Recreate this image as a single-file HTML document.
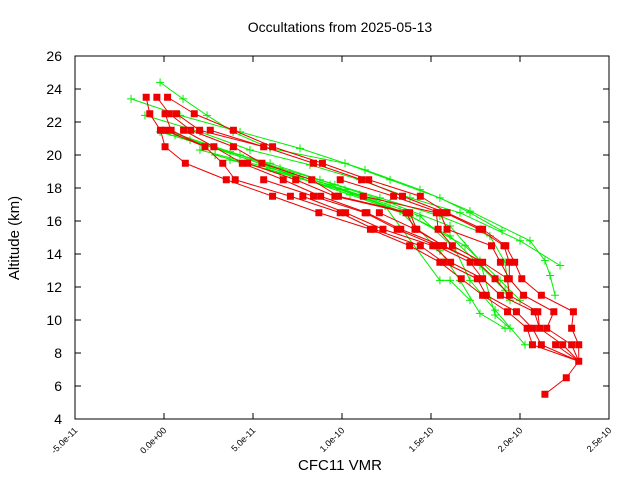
<!DOCTYPE html>
<html><head><meta charset="utf-8"><style>
html,body{margin:0;padding:0;background:#fff;}
svg{display:block;font-family:"Liberation Sans",sans-serif;}
</style></head><body>
<svg id="chart" width="640" height="480" viewBox="0 0 640 480" xmlns="http://www.w3.org/2000/svg">
<rect width="640" height="480" fill="#fff"/>
<text x="340" y="32" font-size="14" text-anchor="middle">Occultations from 2025-05-13</text>
<text x="0" y="0" font-size="15" text-anchor="middle" transform="translate(19,238) rotate(-90)">Altitude (km)</text>
<text x="340" y="470" font-size="15" text-anchor="middle">CFC11 VMR</text>
<g id="green"></g>
<g id="red"></g>
<g id="axes"></g>
</svg>
<script>
// values in units of 1e-12 VMR
const xTicks = [-50, 0, 50, 100, 150, 200, 250];
const xTickLabels = ["-5.0e-11","0.0e+00","5.0e-11","1.0e-10","1.5e-10","2.0e-10","2.5e-10"];
const yTicks = [4,6,8,10,12,14,16,18,20,22,24,26];
const redAltitudes = [23.5,22.5,21.5,20.5,19.5,18.5,17.5,16.5,15.5,14.5,13.5,12.5,11.5,10.5,9.5,8.5,7.5,6.5,5.5];
const redValues = [
 [-10,-4,2],
 [-8,0.6,3,7,17],
 [-2,0.6,4,11,15,20,26,39],
 [0.6,23,28,39,56,61],
 [12,33,44,47,55,84,89],
 [35,40,56,67,74,83,99,111,115],
 [61,71,78,84,88,96,98,112,129,134,144],
 [87,99,102,113,114,121,136,138,153,155,158,159],
 [116,118,123,131,133,141,142,154,159,177,179],
 [138,144,151,153,156,157,162,184,191,192],
 [155,157,161,172,176,179,189,194,197],
 [167,176,179,186,193,194,201],
 [179,181,189,194,202,212],
 [193,198,208,210,219,230],
 [204,207,211,215,229],
 [207,212,220,224,229,233],
 [233],[226],[214]
];
const greenX = [
 [-2.2,10.7,24.2,38.8,59.6,101.7,127,155,171.9,189.9],
 [-18.5,9,42.7,76.4,112.9,143.8,171.9,205.6,214,216.9,219.7],
 [-10.7,20.2,48.3,82,110,138.2,166.3,200,222.5],
 [-2.2,28.7,59.6,87.6,121.3,155,183.1,191.6,194.4],
 [3.4,37.1,65.2,96,127,160.7,177.5,186,194.4],
 [6.2,42.7,70.8,101.7,132.6,155,166.3,177.5,191.6],
 [14.6,48.3,76.4,110,143.8,163.5,171.9,186,202.8],
 [20.2,59.6,93.3,124.2,155,160.7,171.9],
 [28.7,65.2,98.9,132.6,160.7,177.5,191.6],
 [37.1,70.8,104.5,138.2,169.1,188.8,200]
];
const greenAlt = [
 [24.4,23.4,22.4,21.4,20.4,19.5,18.5,17.4,16.5,15.4],
 [23.4,22.4,21.4,20.4,19.1,17.9,16.6,14.8,13.6,12.7,11.5],
 [22.4,21.4,20.3,19.4,18.5,17.4,16.5,14.8,13.3],
 [21.4,20.4,19.5,18.5,17.4,16.3,15.1,13.5,11.2],
 [21.4,20.2,19.2,18.2,17.1,15.7,13.6,10.3,9.5],
 [21.2,20.0,18.9,17.9,16.6,14.2,12.4,10.4,9.5],
 [20.9,19.7,18.6,17.6,16.3,14.3,12.4,10.6,8.5],
 [20.3,19.2,18.2,16.9,12.4,12.4,11.2],
 [20.0,18.9,17.9,16.6,15.1,13.3,11.8],
 [19.7,18.8,17.6,16.3,14.5,12.4,11.2]
];
const L=75,R=609,T=56,B=419;
const xs=v=>L+(v-xTicks[0])*(R-L)/(xTicks[xTicks.length-1]-xTicks[0]);
const ys=v=>B-(v-yTicks[0])*(B-T)/(yTicks[yTicks.length-1]-yTicks[0]);
const NS="http://www.w3.org/2000/svg";
function mk(tag,attrs,parent){const e=document.createElementNS(NS,tag);for(const k in attrs)e.setAttribute(k,attrs[k]);parent.appendChild(e);return e;}
const gG=document.getElementById('green'),gR=document.getElementById('red'),gA=document.getElementById('axes');
// green profiles
greenX.forEach((px,i)=>{
  const pts=px.map((v,j)=>xs(v).toFixed(1)+','+ys(greenAlt[i][j]).toFixed(1)).join(' ');
  const pl=mk('polyline',{points:pts,fill:'none',stroke:'#00ee00','stroke-width':1},gG);
  
  
  px.forEach((v,j)=>{
    const x=xs(v),y=ys(greenAlt[i][j]);
    const c=mk('path',{d:`M${x-4},${y}H${x+4}M${x},${y-4}V${y+4}`,stroke:'#00ee00','stroke-width':1},gG);
    
    
  });
});
// red lines between levels (rank mapped)
for(let l=0;l<redAltitudes.length-1;l++){
  const a=redValues[l],b=redValues[l+1];
  a.forEach((v,k)=>{
    const j=a.length>1?Math.round(k*(b.length-1)/(a.length-1)):0;
    const ln=mk('line',{x1:xs(v),y1:ys(redAltitudes[l]),x2:xs(b[j]),y2:ys(redAltitudes[l+1]),stroke:'#ee0000','stroke-width':1},gR);
    
    
  });
}
redValues.forEach((lev,l)=>lev.forEach(v=>{
  const r=mk('rect',{x:xs(v)-3.5,y:ys(redAltitudes[l])-3.5,width:7,height:7,fill:'#ee0000'},gR);
  
  
}));
// axes
const fr=mk('rect',{x:L,y:T,width:R-L,height:B-T,fill:'none',stroke:'#000','stroke-width':1},gA);


xTicks.forEach((v,i)=>{
  const x=xs(v);
  mk('path',{d:`M${x},${B}v-6M${x},${T}v6`,stroke:'#000'},gA);
  const t=mk('text',{x:0,y:0,'font-size':9,'text-anchor':'end',transform:`translate(${x+3},${B+12}) rotate(-45)`},gA);
  t.textContent=xTickLabels[i];
  
  
});
yTicks.forEach(v=>{
  const y=ys(v);
  mk('path',{d:`M${L},${y}h6M${R},${y}h-6`,stroke:'#000'},gA);
  const t=mk('text',{x:L-13,y:y+5,'font-size':14,'text-anchor':'end'},gA);
  t.textContent=String(v);
  
  
});
</script>
</body></html>
